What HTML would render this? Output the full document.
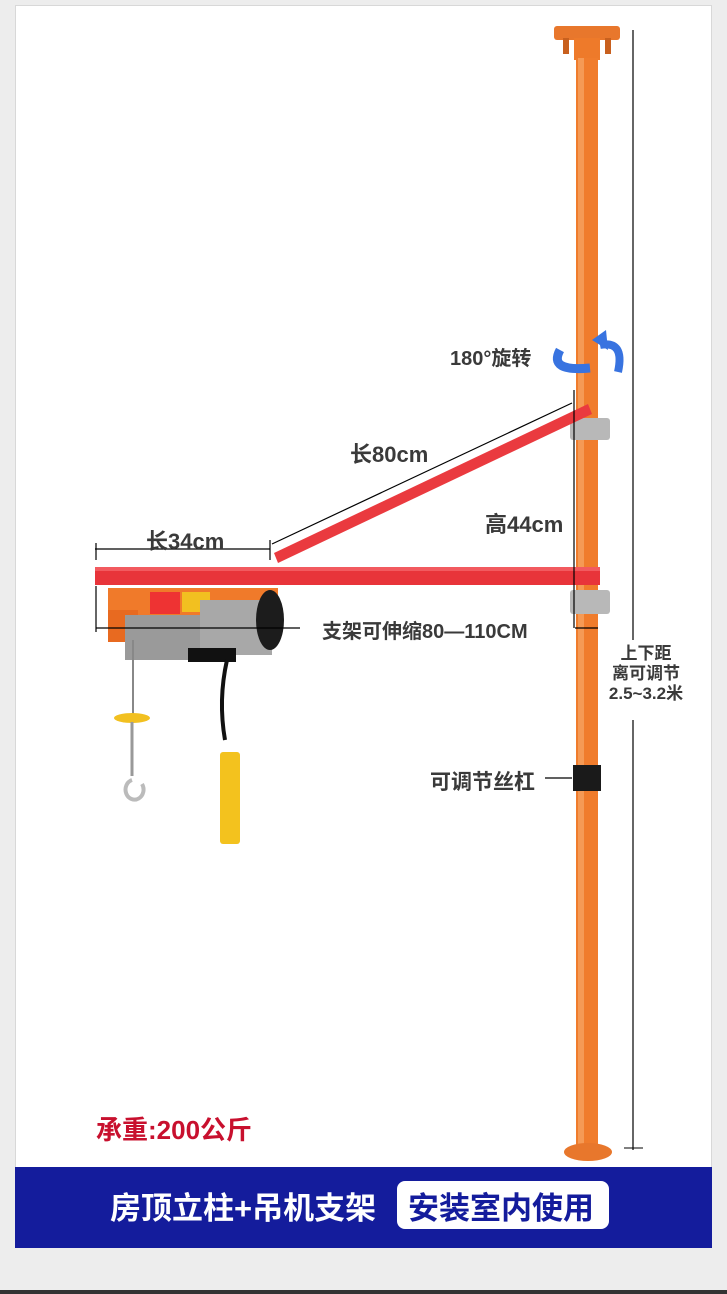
<!DOCTYPE html>
<html><head><meta charset="utf-8"><style>
html,body{margin:0;padding:0;background:#ededed;}
body{width:727px;height:1294px;position:relative;overflow:hidden;font-family:"Liberation Sans","Noto Sans CJK SC",sans-serif;}
.t{position:absolute;color:#3a3a3a;font-weight:bold;white-space:nowrap;}
</style></head><body>
<div style="position:absolute;left:15px;top:5px;width:697px;height:1243px;background:#fff;border:1px solid #d8d8d8;box-sizing:border-box;"></div>
<div style="position:absolute;left:15px;top:1167px;width:697px;height:81px;background:#141c9c;"></div>
<div style="position:absolute;left:0;top:1290px;width:727px;height:4px;background:#333;"></div>
<svg width="727" height="1294" style="position:absolute;left:0;top:0">
 <line x1="633" y1="30" x2="633" y2="640" stroke="#000" stroke-width="1.2"/>
 <line x1="633" y1="720" x2="633" y2="1150" stroke="#000" stroke-width="1.2"/>
 <line x1="624" y1="1148" x2="643" y2="1148" stroke="#000"/>
 <rect x="554" y="26" width="66" height="14" rx="3" fill="#e8772c"/>
 <rect x="563" y="38" width="6" height="16" fill="#c8601e"/>
 <rect x="605" y="38" width="6" height="16" fill="#c8601e"/>
 <rect x="574" y="38" width="26" height="22" fill="#ee7a2a"/>
 <rect x="576" y="58" width="22" height="1092" fill="#f07c2c"/>
 <rect x="578" y="58" width="6" height="1092" fill="#f59a55"/>
 <ellipse cx="588" cy="1152" rx="24" ry="9" fill="#e8772c"/>
 <rect x="573" y="765" width="28" height="26" fill="#1a1a1a"/>
 <rect x="570" y="418" width="40" height="22" rx="3" fill="#b8b8b8"/>
 <rect x="570" y="590" width="40" height="24" rx="3" fill="#b8b8b8"/>
 <polygon points="274,553 588,404 592,414 278,563" fill="#ea3a3f"/>
 <rect x="95" y="567" width="505" height="18" fill="#e8343a"/>
 <rect x="95" y="567" width="505" height="4" fill="#f25a5f"/>
 <path d="M108,588 H278 V600 Q260,610 240,615 H140 V640 H108 Z" fill="#f07a2a"/>
 <rect x="108" y="610" width="30" height="32" fill="#e86a20"/>
 <rect x="150" y="592" width="30" height="22" fill="#e33"/>
 <rect x="182" y="592" width="28" height="20" fill="#f2c020"/>
 <rect x="125" y="615" width="100" height="45" fill="#9a9a9a"/>
 <rect x="200" y="600" width="72" height="55" fill="#a8a8a8"/>
 <ellipse cx="270" cy="620" rx="14" ry="30" fill="#1c1c1c"/>
 <rect x="188" y="648" width="48" height="14" fill="#111"/>
 <line x1="133" y1="640" x2="133" y2="720" stroke="#888" stroke-width="2"/>
 <ellipse cx="132" cy="718" rx="18" ry="5" fill="#f2c020"/>
 <path d="M132,780 a9,10 0 1,0 10,4" stroke="#bbb" stroke-width="4" fill="none"/>
 <line x1="132" y1="722" x2="132" y2="776" stroke="#999" stroke-width="3"/>
 <path d="M227,660 Q218,700 225,740" stroke="#111" stroke-width="4" fill="none"/>
 <rect x="220" y="752" width="20" height="92" rx="3" fill="#f3c21e"/>
 <g stroke="#000" stroke-width="1.2" fill="none">
  <line x1="95" y1="549" x2="270" y2="549"/>
  <line x1="96" y1="543" x2="96" y2="560"/><line x1="96" y1="586" x2="96" y2="632"/>
  <line x1="270" y1="540" x2="270" y2="560"/>
  <line x1="96" y1="628" x2="300" y2="628"/>
  <line x1="575" y1="628" x2="598" y2="628"/>
  <line x1="272" y1="544" x2="572" y2="403"/>
  <line x1="574" y1="390" x2="574" y2="628"/>
  <line x1="545" y1="778" x2="572" y2="778"/>
 </g>
 <path d="M560,350 Q548,372 590,368" stroke="#3873e0" stroke-width="9" fill="none"/>
 <path d="M600,345 Q625,340 618,372" stroke="#3873e0" stroke-width="8" fill="none"/>
 <path d="M592,340 L606,330 L608,350 Z" fill="#3873e0"/>
</svg>
<div class="t" style="left:450px;top:342px;font-size:20px;">180°旋转</div>
<div class="t" style="left:350px;top:437px;font-size:22px;">长80cm</div>
<div class="t" style="left:485px;top:507px;font-size:22px;">高44cm</div>
<div class="t" style="left:146px;top:524px;font-size:22px;">长34cm</div>
<div class="t" style="left:319px;top:615px;font-size:20px;background:#fff;padding:0 3px;">支架可伸缩80—110CM</div>
<div class="t" style="left:600px;top:644px;font-size:17px;text-align:center;line-height:20px;background:#fff;width:92px;">上下距<br>离可调节<br>2.5~3.2米</div>
<div class="t" style="left:430px;top:766px;font-size:21px;">可调节丝杠</div>
<div class="t" style="left:96px;top:1110px;font-size:26px;color:#c8102e;">承重:200公斤</div>
<div class="t" style="left:110px;top:1183px;font-size:31px;color:#fff;">房顶立柱+吊机支架</div>
<div style="position:absolute;left:397px;top:1181px;width:212px;height:48px;background:#fff;border-radius:8px;"></div>
<div class="t" style="left:408px;top:1183px;font-size:31px;color:#141c9c;">安装室内使用</div>
</body></html>
